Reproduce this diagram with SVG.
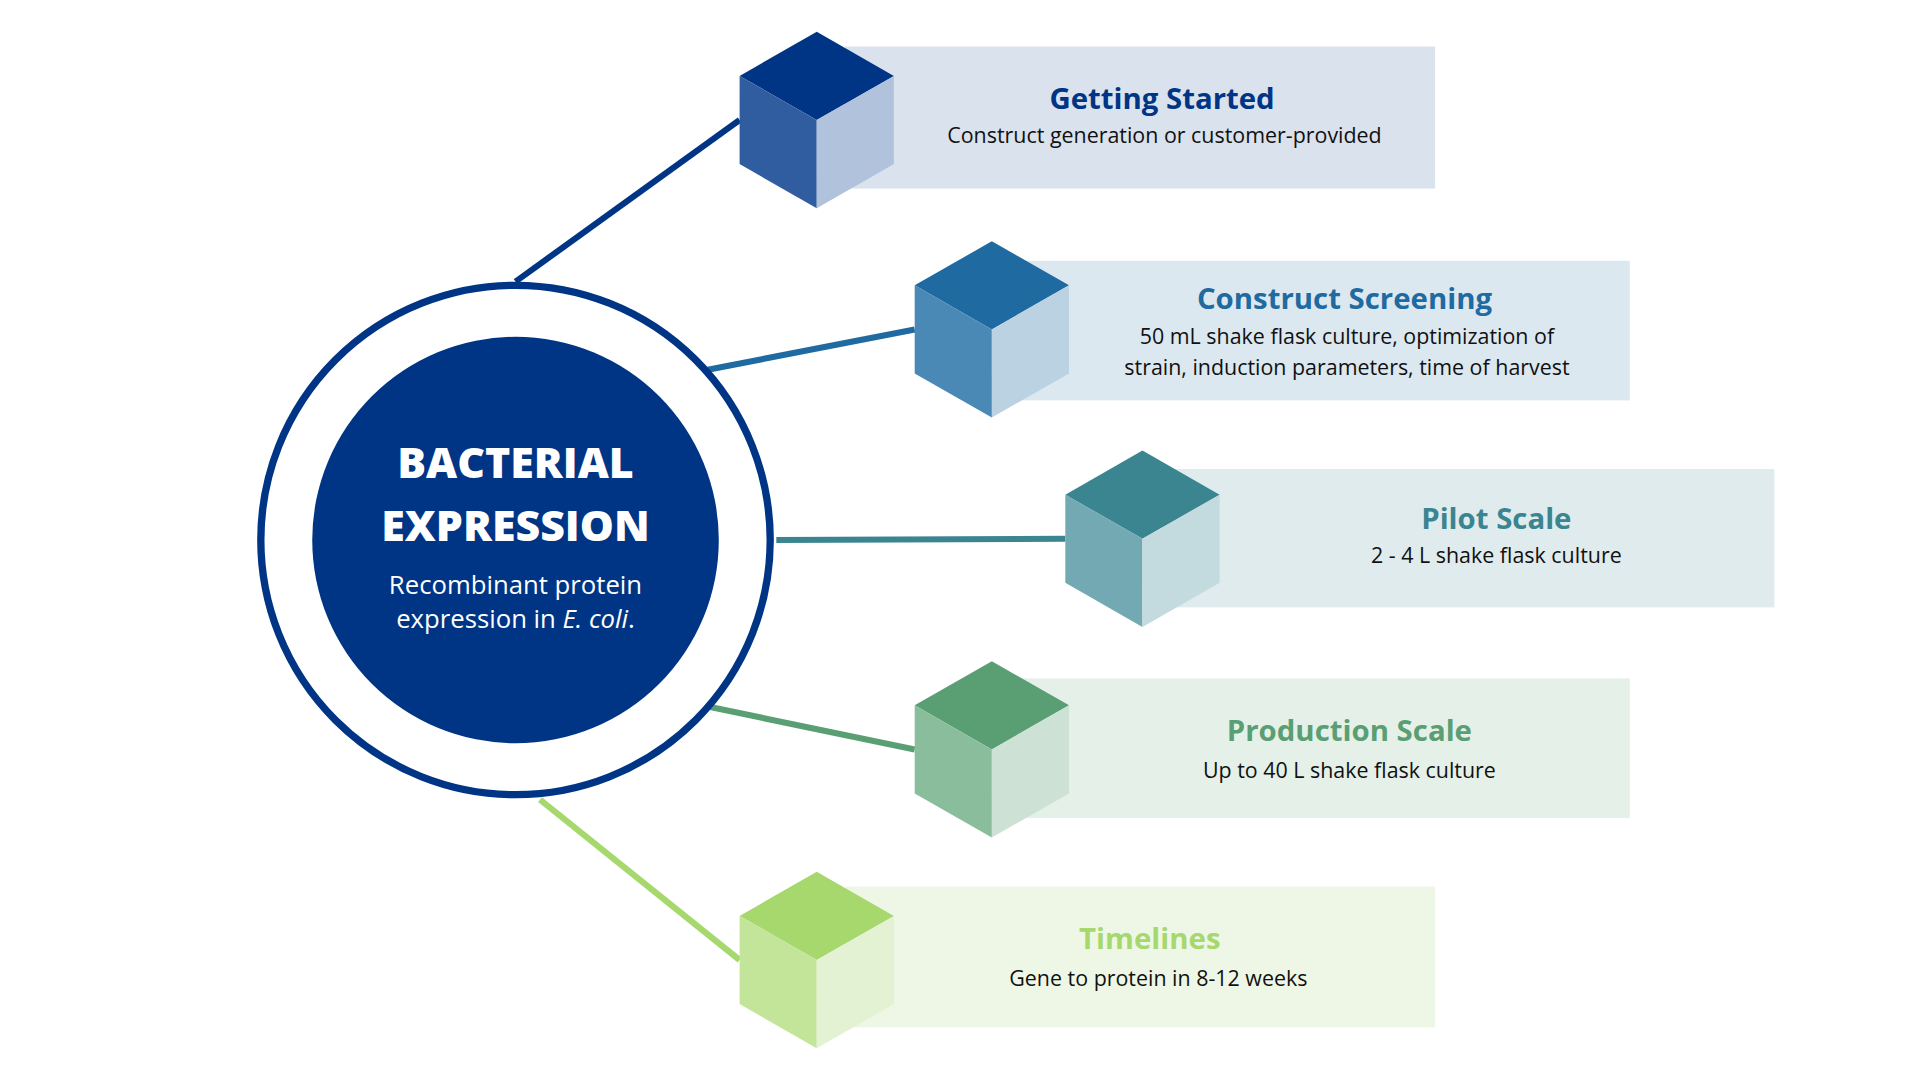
<svg xmlns="http://www.w3.org/2000/svg" width="1920" height="1080" viewBox="0 0 1920 1080">
<style>
.t{font-family:"Open Sans","Liberation Sans",sans-serif;font-weight:700;font-size:24px;text-anchor:middle}
.s{font-family:"Open Sans","Liberation Sans",sans-serif;font-size:17.5px;fill:#111;text-anchor:middle}
.w{font-family:"Open Sans","Liberation Sans",sans-serif;fill:#fff;text-anchor:middle}
.c{fill:none;stroke-width:5;stroke-linecap:butt}
</style>
<rect width="1920" height="1080" fill="#fff"/>
<g transform="scale(1.2245)">
<g id="connectors">
<line class="c" x1="421" y1="230" x2="604" y2="98" stroke="#003585"/>
<line class="c" x1="578" y1="302" x2="747" y2="269" stroke="#1f6aa0"/>
<line class="c" x1="634" y1="441" x2="870" y2="440" stroke="#3a8590"/>
<line class="c" x1="578" y1="577" x2="747" y2="612" stroke="#5a9f73"/>
<line class="c" x1="441" y1="653" x2="604" y2="784" stroke="#a6d86e"/>
</g>
<g id="hub">
<circle cx="421" cy="441" r="208" fill="#fff" stroke="#003585" stroke-width="6"/>
<circle cx="421" cy="441" r="166" fill="#003585"/>
<text class="w" x="421" y="390" font-size="35" font-weight="800">BACTERIAL</text>
<text class="w" x="421" y="442" font-size="35" font-weight="800">EXPRESSION</text>
<text class="w" x="421" y="485" font-size="21">Recombinant protein</text>
<text class="w" x="421" y="513" font-size="21">expression in <tspan font-style="italic">E. coli</tspan>.</text>
</g>
<g id="n1">
<rect x="690" y="38" width="482" height="116" fill="#dae2ed"/>
<polygon points="667,26 730,62 667,98 604,62" fill="#003585"/>
<polygon points="604,62 667,98 667,170 604,134" fill="#2f5d9f"/>
<polygon points="730,62 667,98 667,170 730,134" fill="#b1c2dc"/>
<text class="t" x="949" y="89" fill="#003585">Getting Started</text>
<text class="s" x="951" y="117">Construct generation or customer-provided</text>
</g>
<g id="n2">
<rect x="830" y="213" width="501" height="114" fill="#dce8f0"/>
<polygon points="810,197 873,233 810,269 747,233" fill="#1f6aa0"/>
<polygon points="747,233 810,269 810,341 747,305" fill="#4a88b5"/>
<polygon points="873,233 810,269 810,341 873,305" fill="#bad2e2"/>
<text class="t" x="1098" y="252" fill="#1f6aa0">Construct Screening</text>
<text class="s" x="1100" y="281">50 mL shake flask culture, optimization of</text>
<text class="s" x="1100" y="306">strain, induction parameters, time of harvest</text>
</g>
<g id="n3">
<rect x="955" y="383" width="494" height="113" fill="#e0ebee"/>
<polygon points="933,368 996,404 933,440 870,404" fill="#3a8590"/>
<polygon points="870,404 933,440 933,512 870,476" fill="#72a9b2"/>
<polygon points="996,404 933,440 933,512 996,476" fill="#c3dade"/>
<text class="t" x="1222" y="432" fill="#3a8590">Pilot Scale</text>
<text class="s" x="1222" y="460">2 - 4 L shake flask culture</text>
</g>
<g id="n4">
<rect x="830" y="554" width="501" height="114" fill="#e5f0e8"/>
<polygon points="810,540 873,576 810,612 747,576" fill="#5a9f73"/>
<polygon points="747,576 810,612 810,684 747,648" fill="#8abd9c"/>
<polygon points="873,576 810,612 810,684 873,648" fill="#cde2d4"/>
<text class="t" x="1102" y="605" fill="#5a9f73">Production Scale</text>
<text class="s" x="1102" y="635">Up to 40 L shake flask culture</text>
</g>
<g id="n5">
<rect x="690" y="724" width="482" height="115" fill="#eef7e6"/>
<polygon points="667,712 730,748 667,784 604,748" fill="#a6d86e"/>
<polygon points="604,748 667,784 667,856 604,820" fill="#c3e59a"/>
<polygon points="730,748 667,784 667,856 730,820" fill="#e3f2d2"/>
<text class="t" x="939" y="775" fill="#a6d86e">Timelines</text>
<text class="s" x="946" y="805">Gene to protein in 8-12 weeks</text>
</g>
</g>
</svg>
